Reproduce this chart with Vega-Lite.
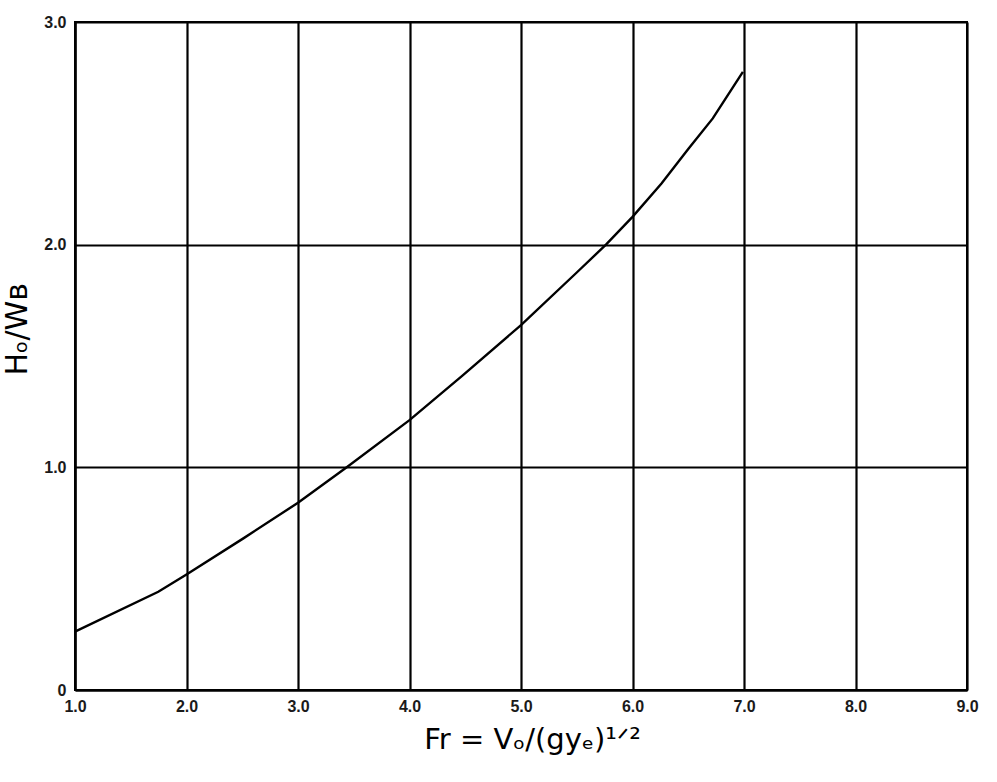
{
  "$schema": "https://vega.github.io/schema/vega-lite/v6.json",
  "autosize": {"type": "none"},
  "width": 892,
  "height": 668,
  "padding": {"left": 75, "top": 22, "right": 30, "bottom": 92},
  "background": "white",
  "config": {
    "view": {"stroke": "black", "strokeWidth": 2},
    "axis": {
      "gridColor": "black",
      "gridWidth": 2.2,
      "gridOpacity": 1,
      "domainColor": "black",
      "domainWidth": 2.2,
      "tickColor": "black",
      "tickSize": 0,
      "labelFont": "Liberation Sans",
      "labelFontWeight": "bold",
      "labelFontSize": 16,
      "labelColor": "#1a1a1a",
      "titleFont": "DejaVu Sans",
      "titleFontWeight": "normal",
      "titleFontSize": 29,
      "titleColor": "black"
    }
  },
  "data": {
    "values": [
      {"fr": 1.0, "hw": 0.262},
      {"fr": 1.747, "hw": 0.441},
      {"fr": 2.0, "hw": 0.519},
      {"fr": 2.51, "hw": 0.681},
      {"fr": 3.0, "hw": 0.841},
      {"fr": 3.437, "hw": 1.0},
      {"fr": 4.0, "hw": 1.212},
      {"fr": 4.48, "hw": 1.414},
      {"fr": 5.0, "hw": 1.639},
      {"fr": 5.5, "hw": 1.875},
      {"fr": 5.762, "hw": 2.0},
      {"fr": 6.0, "hw": 2.125},
      {"fr": 6.26, "hw": 2.275},
      {"fr": 6.5, "hw": 2.43},
      {"fr": 6.72, "hw": 2.567},
      {"fr": 6.99, "hw": 2.776}
    ]
  },
  "mark": {"type": "line", "color": "black", "strokeWidth": 2.4, "interpolate": "linear"},
  "encoding": {
    "x": {
      "field": "fr",
      "type": "quantitative",
      "scale": {"domain": [1, 9], "nice": false, "zero": false},
      "axis": {
        "values": [1, 2, 3, 4, 5, 6, 7, 8, 9],
        "format": ".1f",
        "labelPadding": 8,
        "labelFlush": false,
        "title": "Fr = Vₒ/(gyₑ)¹ᐟ²",
        "titleX": 457,
        "titleY": 35,
        "titleBaseline": "top",
        "titleAnchor": "middle"
      }
    },
    "y": {
      "field": "hw",
      "type": "quantitative",
      "scale": {"domain": [0, 3], "nice": false},
      "axis": {
        "values": [0, 1, 2, 3],
        "labelExpr": "datum.value == 0 ? '0' : format(datum.value, '.1f')",
        "labelPadding": 9,
        "labelFlush": false,
        "title": "Hₒ/Wʙ",
        "titleX": -58,
        "titleY": 307,
        "titleAngle": -90,
        "titleAlign": "center",
        "titleBaseline": "middle",
        "titleFontSize": 30
      }
    }
  }
}
